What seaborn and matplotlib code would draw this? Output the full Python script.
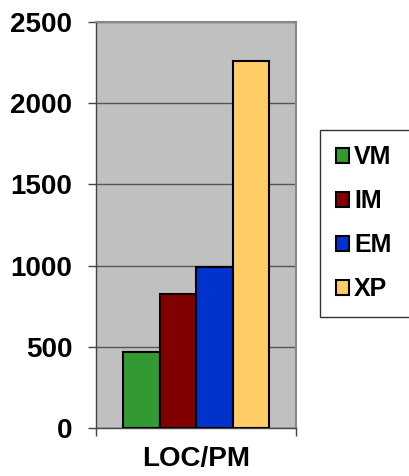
import numpy as np
import pandas as pd
import seaborn as sns
import matplotlib.pyplot as plt

categories = ["LOC/PM"]
series = ["VM", "IM", "EM", "XP"]
values = [468, 825, 990, 2262]
colors = ["#339933", "#800000", "#0033CC", "#FFCC66"]

df = pd.DataFrame({"cat": categories * len(series), "series": series, "value": values})

sns.set_style("white")
plt.rcParams["font.family"] = ["Liberation Sans", "DejaVu Sans"]
plt.rcParams["font.weight"] = "bold"
plt.rcParams["text.color"] = "black"
plt.rcParams["xtick.labelcolor"] = "black"
plt.rcParams["ytick.labelcolor"] = "black"

fig = plt.figure(figsize=(4.09, 4.76), dpi=100)
ax = fig.add_axes([96 / 409, 48 / 476, 200 / 409, 406 / 476])
ax.set_facecolor("#C0C0C0")

sns.barplot(data=df, x="cat", y="value", hue="series", palette=colors,
            width=0.73, edgecolor="black", linewidth=1.5, saturation=1,
            ax=ax, legend=False, zorder=3)

ax.set_xlim(-0.5, 0.5)
ax.set_ylim(0, 2500)
ax.set_yticks(np.arange(0, 2501, 500))
ax.yaxis.grid(True, color="#555555", linewidth=1, zorder=1)
ax.set_axisbelow(True)
ax.tick_params(axis="y", direction="out", length=6, width=1, color="#444444",
               labelsize=20, pad=11, left=True, labelcolor="black")
for t in ax.get_yticklabels():
    t.set_fontweight("bold")

ax.set_xticks([0])
ax.set_xticklabels(["LOC/PM"], fontsize=20, fontweight="bold")
ax.tick_params(axis="x", length=0, pad=13, labelcolor="black")
ax.set_xticks([-0.5, 0.5], minor=True)
ax.tick_params(axis="x", which="minor", direction="out", length=6, width=1,
               color="#444444", bottom=True)
ax.set_xlabel("")
ax.set_ylabel("")

for side in ["left", "bottom"]:
    ax.spines[side].set_color("#444444")
    ax.spines[side].set_linewidth(1)
for side in ["top", "right"]:
    ax.spines[side].set_color("#888888")
    ax.spines[side].set_linewidth(1.5)

handles = [plt.Rectangle((0, 0), 1, 1, facecolor=c, edgecolor="black", linewidth=1.5)
           for c in colors]
leg = fig.legend(handles, series, loc="upper left",
                 bbox_to_anchor=(320 / 409, 161 / 476, 100 / 409, 185 / 476), mode="expand",
                 prop={"weight": "bold", "size": 18},
                 frameon=True, fancybox=False, shadow=False,
                 handlelength=0.55, handleheight=0.55, handletextpad=0.2,
                 labelspacing=0.8, borderpad=0.62, borderaxespad=0)
leg.get_frame().set_edgecolor("black")
leg.get_frame().set_linewidth(1)
leg.get_frame().set_facecolor("white")
for t in leg.get_texts():
    t.set_color("black")

fig.savefig("out.png", dpi=100)
